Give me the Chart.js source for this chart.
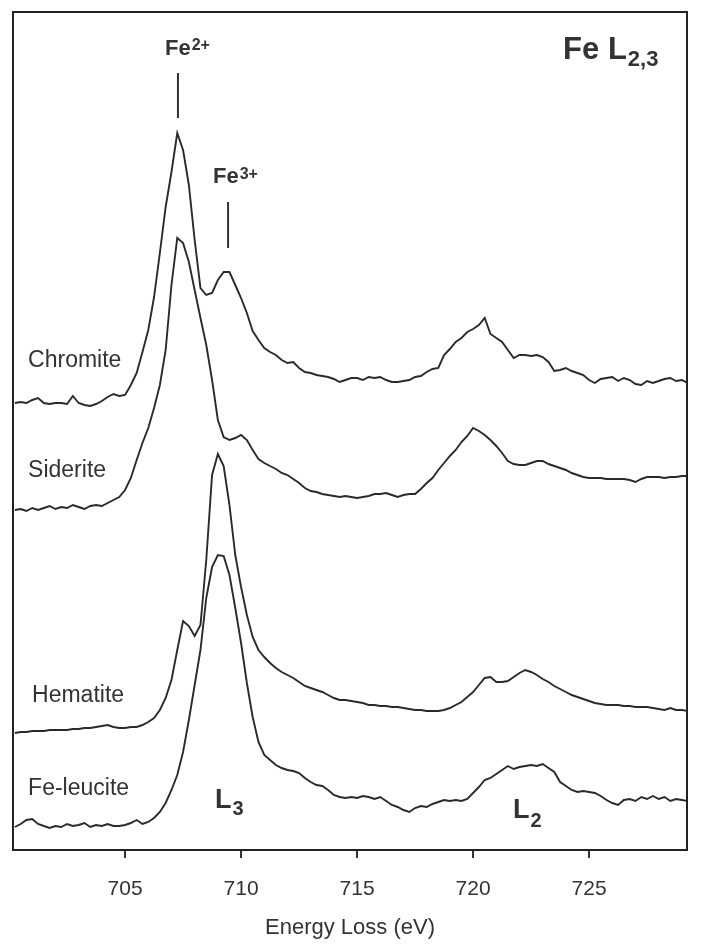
<!DOCTYPE html>
<html><head><meta charset="utf-8">
<script src="https://cdn.jsdelivr.net/npm/chart.js@4"></script>
<style>html,body{margin:0;padding:0;background:#fff;}#wrap{width:701px;height:946px;position:relative;}</style>
</head><body><div id="wrap"><canvas id="c"></canvas></div>
<script>
// Energy loss channels (eV)
const energies = [700.25,700.5,700.75,701,701.25,701.5,701.75,702,702.25,702.5,702.75,703,703.25,703.5,703.75,704,704.25,704.5,704.75,705,705.25,705.5,705.75,706,706.25,706.5,706.75,707,707.25,707.5,707.75,708,708.25,708.5,708.75,709,709.25,709.5,709.75,710,710.25,710.5,710.75,711,711.25,711.5,711.75,712,712.25,712.5,712.75,713,713.25,713.5,713.75,714,714.25,714.5,714.75,715,715.25,715.5,715.75,716,716.25,716.5,716.75,717,717.25,717.5,717.75,718,718.25,718.5,718.75,719,719.25,719.5,719.75,720,720.25,720.5,720.75,721,721.25,721.5,721.75,722,722.25,722.5,722.75,723,723.25,723.5,723.75,724,724.25,724.5,724.75,725,725.25,725.5,725.75,726,726.25,726.5,726.75,727,727.25,727.5,727.75,728,728.25,728.5,728.75,729,729.25];

// Intensities (arbitrary units, spectra vertically offset)
const chromite = [447,448,447,450,452,447,446,447,447,446,454,447,445,444,446,449,453,456,454,455,465,477,498,520,553,597,643,678,717,700,665,610,562,555,557,570,578,578,565,552,537,519,510,502,498,495,490,487,488,482,478,477,475,474,473,471,468,470,472,472,470,473,472,473,470,468,468,469,470,473,474,478,481,482,495,501,508,512,518,521,525,532,516,512,508,500,492,495,495,494,495,493,488,479,480,482,479,477,475,470,467,471,472,473,469,472,470,466,465,469,467,469,471,472,469,470,467];
const siderite = [340,341,339,342,340,342,344,341,343,342,345,343,341,344,345,344,347,350,353,360,372,390,407,422,442,465,500,565,612,607,588,560,532,505,470,430,413,410,412,415,410,400,391,387,384,381,377,375,371,367,362,359,358,356,355,354,353,354,353,352,353,354,356,356,357,355,353,355,356,356,361,367,372,380,387,394,400,408,414,422,419,415,410,404,397,389,386,385,385,387,389,389,386,384,382,380,377,375,373,372,372,372,371,371,371,371,370,368,371,373,373,373,372,373,373,374,374];
const hematite = [117,118,118,119,119,119,120,120,120,120,121,121,122,122,123,124,125,123,122,122,123,123,125,128,132,140,152,170,200,229,224,214,225,290,375,396,384,345,295,263,235,213,200,193,187,182,178,175,172,168,164,162,160,158,155,152,150,150,149,148,147,145,145,144,144,143,143,142,141,140,140,139,139,139,140,142,145,148,153,158,165,172,173,168,168,169,173,177,180,178,175,171,168,164,161,158,155,153,151,149,147,146,145,145,145,144,144,143,143,143,142,141,140,142,140,140,139];
const feLeucite = [23,26,30,31,26,24,22,24,23,26,24,25,27,23,25,24,26,24,24,25,27,30,26,28,32,38,47,60,75,98,130,165,200,252,283,295,294,275,242,207,167,133,108,95,90,85,82,80,79,77,72,68,65,64,60,55,53,52,53,52,54,53,51,53,49,45,43,40,38,42,44,43,46,48,50,49,50,49,51,57,63,70,72,76,80,84,81,83,84,85,84,86,82,78,68,64,60,58,59,58,57,54,50,47,45,50,51,49,53,51,54,51,53,49,51,50,49];

const tickValues = [705,710,715,720,725];
const seriesNames = ['Chromite','Siderite','Hematite','Fe-leucite'];
const seriesValues = [chromite, siderite, hematite, feLeucite];

// Text annotations (data coordinates: energy, intensity)
const nameLabels = [
  {text:'Chromite', e:700.82, v:483},
  {text:'Siderite', e:700.82, v:373},
  {text:'Hematite', e:700.99, v:148},
  {text:'Fe-leucite', e:700.82, v:55}
];
const richLabels = [
  {main:'Fe', script:'2+', e:706.72, v:795, size:22, sSize:16, shift:-5},
  {main:'Fe', script:'3+', e:708.79, v:667, size:22, sSize:16, shift:-4},
  {main:'Fe L', script:'2,3', e:723.88, v:791, size:31, sSize:22, shift:7},
  {main:'L', script:'3', e:708.88, v:42, size:27, sSize:20, shift:7},
  {main:'L', script:'2', e:721.72, v:32, size:27, sSize:20, shift:9}
];
const markers = [
  {e:707.28, v0:777, v1:732},
  {e:709.44, v0:648, v1:602}
];

const FONT = '"Liberation Sans", Arial, Helvetica, sans-serif';
Chart.defaults.font.family = FONT;

const decor = {
  id:'decor',
  afterDraw(chart){
    const {ctx, chartArea:a, scales:{x, y}} = chart;
    ctx.save();
    ctx.strokeStyle = '#222'; ctx.lineWidth = 2;
    ctx.strokeRect(a.left, a.top, a.right - a.left, a.bottom - a.top);
    ctx.fillStyle = '#333'; ctx.textAlign = 'left'; ctx.textBaseline = 'alphabetic';
    ctx.font = '23px ' + FONT;
    nameLabels.forEach(l => ctx.fillText(l.text, x.getPixelForValue(l.e), y.getPixelForValue(l.v)));
    richLabels.forEach(l => {
      let px = x.getPixelForValue(l.e); const py = y.getPixelForValue(l.v);
      ctx.font = 'bold ' + l.size + 'px ' + FONT;
      ctx.fillText(l.main, px, py);
      px += ctx.measureText(l.main).width + 1;
      ctx.font = 'bold ' + l.sSize + 'px ' + FONT;
      ctx.fillText(l.script, px, py + l.shift);
    });
    ctx.strokeStyle = '#333'; ctx.lineWidth = 2;
    markers.forEach(m => {
      const mx = x.getPixelForValue(m.e);
      ctx.beginPath(); ctx.moveTo(mx, y.getPixelForValue(m.v0)); ctx.lineTo(mx, y.getPixelForValue(m.v1)); ctx.stroke();
    });
    ctx.restore();
  }
};

new Chart(document.getElementById('c'), {
  type:'line',
  data:{
    datasets: seriesNames.map((name, k) => ({
      label:name,
      data: energies.map((e, i) => ({x:e, y:seriesValues[k][i]})),
      borderColor:'#2a2a2a', borderWidth:1.9, pointRadius:0, fill:false,
      stepped:false, tension:0
    }))
  },
  options:{
    responsive:true, maintainAspectRatio:false, animation:false, devicePixelRatio:1,
    layout:{padding:{left:13, top:12, right:14, bottom:0}},
    plugins:{legend:{display:false}, tooltip:{enabled:false}},
    scales:{
      x:{
        type:'linear', min:700.17, max:729.22,
        afterBuildTicks: s => { s.ticks = tickValues.map(v => ({value:v})); },
        afterFit: s => { s.height = 96; },
        border:{display:false},
        grid:{display:true, drawOnChartArea:false, drawTicks:true, tickLength:8, color:'#333', lineWidth:2},
        ticks:{color:'#333', font:{size:21}, padding:19, maxRotation:0, callback: v => String(v)},
        title:{display:true, text:'Energy Loss (eV)', color:'#333', font:{size:22}, padding:{top:0, bottom:5}}
      },
      y:{display:false, min:0, max:838}
    }
  },
  plugins:[decor]
});
</script>
</body></html>
